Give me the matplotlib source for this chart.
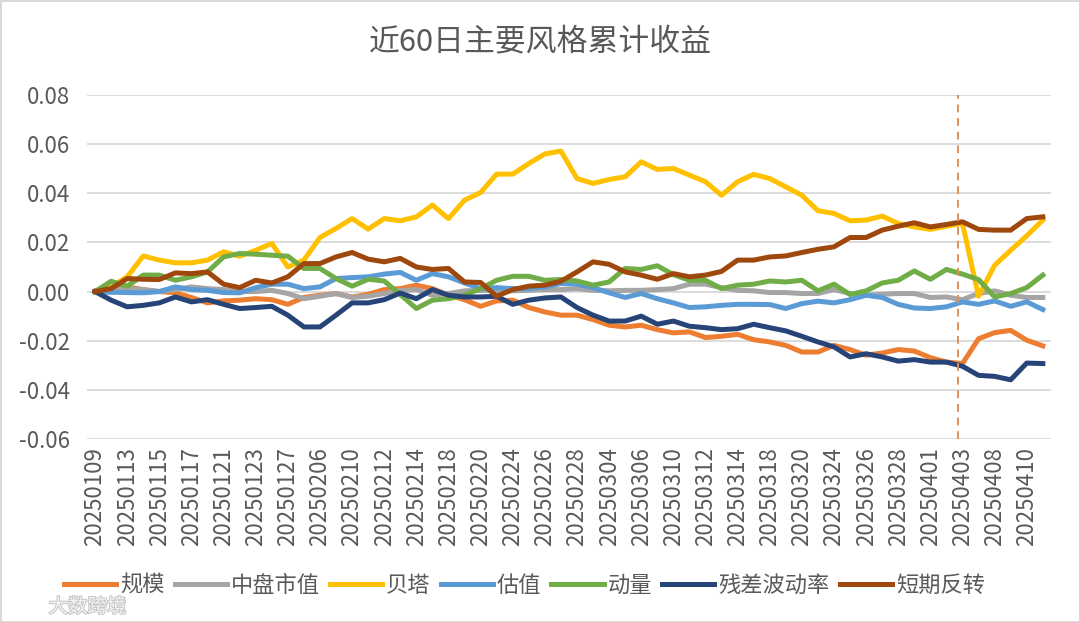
import matplotlib.pyplot as plt
import matplotlib.patheffects as pe

plt.rcParams['font.family'] = ['Noto Sans CJK SC', 'DejaVu Sans']

# trading days, 60 of them
dates = ['20250109', '20250110', '20250113', '20250114', '20250115', '20250116', '20250117',
         '20250120', '20250121', '20250122', '20250123', '20250124', '20250127', '20250205',
         '20250206', '20250207', '20250210', '20250211', '20250212', '20250213', '20250214',
         '20250217', '20250218', '20250219', '20250220', '20250221', '20250224', '20250225',
         '20250226', '20250227', '20250228', '20250303', '20250304', '20250305', '20250306',
         '20250307', '20250310', '20250311', '20250312', '20250313', '20250314', '20250317',
         '20250318', '20250319', '20250320', '20250321', '20250324', '20250325', '20250326',
         '20250327', '20250328', '20250331', '20250401', '20250402', '20250403', '20250407',
         '20250408', '20250409', '20250410', '20250411']

size = [0, 0.0012, 0.0019, 0.0008, 0, -0.0005, -0.0024, -0.0046, -0.0038, -0.0035,
        -0.0029, -0.0033, -0.0052, -0.0024, -0.0015, -0.0008, -0.0022, -0.0011, 0.0008, 0.0012,
        0.0026, 0.0012, -0.0015, -0.0033, -0.006, -0.0038, -0.0035, -0.0065, -0.0083, -0.0096,
        -0.0096, -0.0114, -0.0137, -0.0144, -0.0137, -0.0155, -0.0168, -0.0164, -0.0187, -0.0182,
        -0.0174, -0.0196, -0.0205, -0.0219, -0.0246, -0.0246, -0.0219, -0.0236, -0.0259, -0.025,
        -0.0236, -0.0242, -0.0269, -0.0287, -0.0293, -0.0192, -0.0167, -0.0158, -0.0198, -0.0221]

midcap = [0, 0.0003, 0.0012, 0.0008, 0, 0.0008, 0.0019, 0.0012, 0.0008, 0,
          0, 0.0005, -0.0008, -0.0029, -0.0019, -0.0008, -0.0024, -0.0019, -0.0008, 0.0005,
          0.0008, -0.0015, -0.0008, 0.0003, 0.0005, 0.0005, 0.0003, 0.0005, 0.0008, 0.0008,
          0.0012, 0.0005, 0.0003, 0.0005, 0.0005, 0.0008, 0.0012, 0.003, 0.003, 0.0016,
          0.0005, 0.0003, -0.0004, -0.0004, -0.0008, -0.0008, 0.0008, -0.0008, -0.0015, -0.0011,
          -0.0008, -0.0008, -0.0024, -0.0022, -0.0033, -0.0008, 0.0003, -0.0015, -0.0024, -0.0024]

beta = [0, 0.0019, 0.006, 0.0145, 0.0128, 0.0117, 0.0117, 0.0128, 0.0162, 0.0144,
        0.0168, 0.0196, 0.010, 0.0128, 0.022, 0.0257, 0.0297, 0.0254, 0.0297, 0.0288,
        0.0304, 0.0352, 0.0297, 0.0372, 0.0403, 0.0478, 0.0478, 0.0521, 0.056, 0.0572,
        0.046, 0.044, 0.0456, 0.0467, 0.0528, 0.0497, 0.0501, 0.0474, 0.0447, 0.0392,
        0.0447, 0.0477, 0.046, 0.0426, 0.0392, 0.0329, 0.0318, 0.0288, 0.0291, 0.0307,
        0.0277, 0.0263, 0.0253, 0.0266, 0.0277, -0.0019, 0.0107, 0.0168, 0.0227, 0.0291]

value = [0, -0.0003, -0.0004, -0.0005, 0, 0.0019, 0.0008, 0.0005, -0.0004, -0.0005,
         0.0016, 0.003, 0.003, 0.0012, 0.0019, 0.0053, 0.0057, 0.006, 0.0071, 0.0078,
         0.0046, 0.0073, 0.006, 0.0035, 0.0012, 0.0016, 0.0012, 0.0012, 0.0019, 0.0033,
         0.003, 0.0016, -0.0005, -0.0024, -0.0008, -0.0029, -0.0046, -0.0065, -0.0062, -0.0056,
         -0.0052, -0.0052, -0.0053, -0.0069, -0.0049, -0.0039, -0.0046, -0.0033, -0.0015, -0.0024,
         -0.0052, -0.0067, -0.0069, -0.0062, -0.0042, -0.0052, -0.0038, -0.006, -0.0042, -0.0073]

momentum = [0, 0.0042, 0.0022, 0.0067, 0.0067, 0.0046, 0.006, 0.008, 0.0141, 0.0155,
            0.0152, 0.0148, 0.0144, 0.0094, 0.0094, 0.0053, 0.0022, 0.005, 0.0043, -0.0012,
            -0.0069, -0.0035, -0.0029, -0.0015, 0.0012, 0.0046, 0.0062, 0.0062, 0.0046, 0.0049,
            0.0043, 0.0026, 0.0039, 0.0094, 0.009, 0.0105, 0.0069, 0.0046, 0.0046, 0.0012,
            0.0026, 0.003, 0.0043, 0.0039, 0.0046, 0.0003, 0.003, -0.0012, 0.0003, 0.0035,
            0.0046, 0.0084, 0.005, 0.009, 0.0071, 0.0049, -0.0022, -0.0008, 0.0016, 0.0067]

resvol = [0, -0.0035, -0.0062, -0.0056, -0.0046, -0.0022, -0.0042, -0.0033, -0.0052, -0.0069,
          -0.0065, -0.006, -0.0096, -0.0144, -0.0144, -0.0096, -0.0046, -0.0046, -0.0033, -0.0006,
          -0.0029, 0.0008, -0.0015, -0.0022, -0.0022, -0.0019, -0.0052, -0.0035, -0.0026, -0.0022,
          -0.0065, -0.0096, -0.012, -0.012, -0.010, -0.0133, -0.012, -0.0141, -0.0147, -0.0155,
          -0.0151, -0.0133, -0.0147, -0.016, -0.0182, -0.0205, -0.0225, -0.0266, -0.0253, -0.0266,
          -0.0283, -0.0277, -0.0287, -0.0287, -0.0304, -0.0341, -0.0345, -0.0359, -0.0291, -0.0293]

reversal = [0, 0.0012, 0.0053, 0.005, 0.0049, 0.0076, 0.0073, 0.008, 0.003, 0.0016,
            0.0046, 0.0035, 0.006, 0.0114, 0.0114, 0.0141, 0.0159, 0.0132, 0.0121, 0.0135,
            0.010, 0.009, 0.0094, 0.0039, 0.0037, -0.0019, 0.0008, 0.0022, 0.0026, 0.0042,
            0.008, 0.0121, 0.0111, 0.008, 0.0067, 0.005, 0.0073, 0.006, 0.0067, 0.0082,
            0.0128, 0.0128, 0.0141, 0.0145, 0.0159, 0.0172, 0.0182, 0.022, 0.022, 0.025,
            0.0266, 0.028, 0.0263, 0.0273, 0.0284, 0.0253, 0.025, 0.025, 0.0297, 0.0304]

names = ['规模', '中盘市值', '贝塔', '估值', '动量', '残差波动率', '短期反转']
series = [size, midcap, beta, value, momentum, resvol, reversal]
colors = ['#ED7D31', '#A5A5A5', '#FFC000', '#5B9BD5', '#70AD47', '#264478', '#9E480E']

marker_pos = 53.7  # dashed line just before 20250403
text_col = '#595959'

fig = plt.figure(figsize=(10.8, 6.22), dpi=100)
fig.patch.set_edgecolor('#D9D9D9')
fig.patch.set_linewidth(2)
ax = fig.add_axes([0.0806, 0.2942, 0.8924, 0.5531])

x = list(range(len(dates)))
for vals, name, c in zip(series, names, colors):
    ax.plot(x, vals, color=c, lw=3.6, label=name, solid_joinstyle='round')

ax.axvline(marker_pos, color='#E0905A', lw=1.4, ls=(0, (4, 3)))

ax.set_xlim(-0.5, len(dates) - 0.5)
ax.set_ylim(-0.06, 0.08)
ax.set_yticks([-0.06, -0.04, -0.02, 0.0, 0.02, 0.04, 0.06, 0.08])
ax.set_yticklabels(['%.2f' % v for v in ax.get_yticks()])
ax.set_xticks(x[::2])
ax.set_xticklabels(dates[::2], rotation=90)
ax.tick_params(axis='both', length=0, colors=text_col, labelsize=16)
ax.tick_params(axis='y', pad=12)
ax.tick_params(axis='x', pad=6)
ax.grid(axis='y', color='#D9D9D9', lw=1.3)
ax.set_axisbelow(True)
for s in ax.spines.values():
    s.set_visible(False)

fig.text(0.5, 1 - 43 / 622, '近60日主要风格累计收益', ha='center', va='center',
         fontsize=22.2, color=text_col)

fig.legend(loc='center', bbox_to_anchor=(0.4856, 1 - 585 / 622), ncol=7, frameon=False,
           fontsize=16, handlelength=2.35, handletextpad=0.18, columnspacing=0.45,
           labelcolor=text_col)

# watermark
fig.text(0.045, 1 - 607 / 622, '大数跨境', fontsize=14, color='#F2F2F2', ha='left', va='center',
         path_effects=[pe.withStroke(linewidth=1.5, foreground='#C8C8C8')])

fig.savefig('out.png', dpi=100)
